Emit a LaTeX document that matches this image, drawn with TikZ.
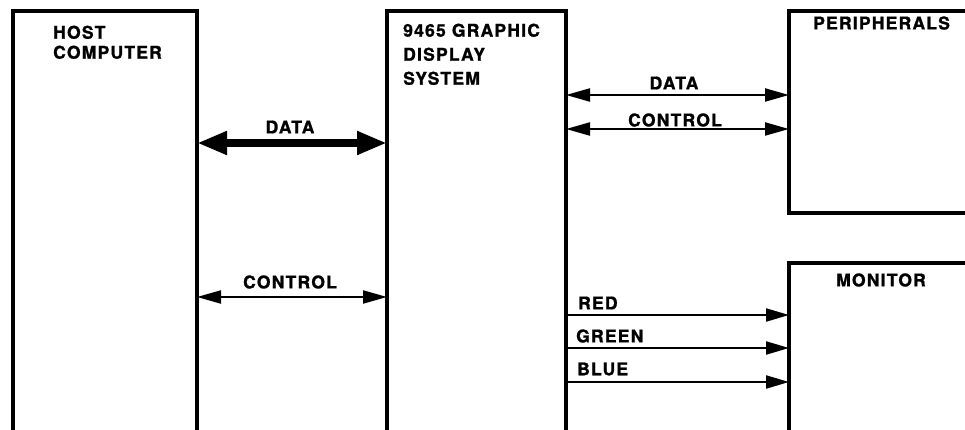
\documentclass[tikz,border=0pt]{standalone}
\usepackage{fontspec}
\setmainfont{TeX Gyre Heros}[LetterSpace=7, BoldFeatures={FakeBold=1.3}]
\usetikzlibrary{arrows.meta}
\begin{document}
\begin{tikzpicture}[x=1pt,y=-1pt,
  unit box/.style={draw, line width=4pt, outer sep=0pt, inner sep=0pt, anchor=north west},
  label text/.style={font=\fontsize{17.5}{20}\selectfont\bfseries, inner sep=0pt},
  link/.style={line width=2.2pt, {Triangle[length=24pt,width=13pt]}-{Triangle[length=24pt,width=13pt]}},
  feed/.style={line width=2.2pt, -{Triangle[length=23pt,width=13pt]}},
  bus/.style={line width=8pt, {Triangle[length=30pt,width=22pt]}-{Triangle[length=30pt,width=22pt]}}]
\useasboundingbox (0,0) rectangle (965,430);
\clip (0,0) rectangle (965,430);

% units
\node[unit box, minimum width=184pt, minimum height=440pt] (host) at (13,11) {};
\node[unit box, minimum width=179pt, minimum height=440pt] (gds) at (387,11) {};
\node[unit box, minimum width=200pt, minimum height=202pt] (per) at (789,11) {};
\node[unit box, minimum width=200pt, minimum height=200pt] (mon) at (789,263) {};

% unit names
\node[label text, anchor=north west, align=left] (hostname) at (53,25.5) {HOST\\COMPUTER};
\node[label text, font=\fontsize{17.5}{24}\selectfont\bfseries, anchor=north west, align=left] (gdsname) at (403,23.5) {9465 GRAPHIC\\DISPLAY\\SYSTEM};
\node[label text, anchor=west] (pername) at (813,23) {PERIPHERALS};
\node[label text] (monname) at (881,280) {MONITOR};

% signal rows
\coordinate (hostdata) at (0,143);
\coordinate (hostctrl) at (0,297);
\coordinate (perdata) at (0,95);
\coordinate (perctrl) at (0,129);
\coordinate (red) at (0,315);
\coordinate (green) at (0,348);
\coordinate (blue) at (0,382);

% host <-> display system
\draw[bus] (host.east |- hostdata) -- (gds.west |- hostdata);
\draw[link] (host.east |- hostctrl) -- (gds.west |- hostctrl);
\node[label text] (hostdatalbl) at (290,127) {DATA};
\node[label text] (hostctrllbl) at (290,282) {CONTROL};

% display system <-> peripherals
\draw[link] (gds.east |- perdata) -- (per.west |- perdata);
\draw[link] (gds.east |- perctrl) -- (per.west |- perctrl);
\node[label text] (perdatalbl) at (674,83) {DATA};
\node[label text] (perctrllbl) at (675,120) {CONTROL};

% video outputs
\draw[feed] (gds.east |- red) -- (mon.west |- red);
\draw[feed] (gds.east |- green) -- (mon.west |- green);
\draw[feed] (gds.east |- blue) -- (mon.west |- blue);
\node[label text, anchor=west] (redlbl) at (578,303) {RED};
\node[label text, anchor=west] (greenlbl) at (576,336) {GREEN};
\node[label text, anchor=west] (bluelbl) at (577,369) {BLUE};
\end{tikzpicture}
\end{document}
